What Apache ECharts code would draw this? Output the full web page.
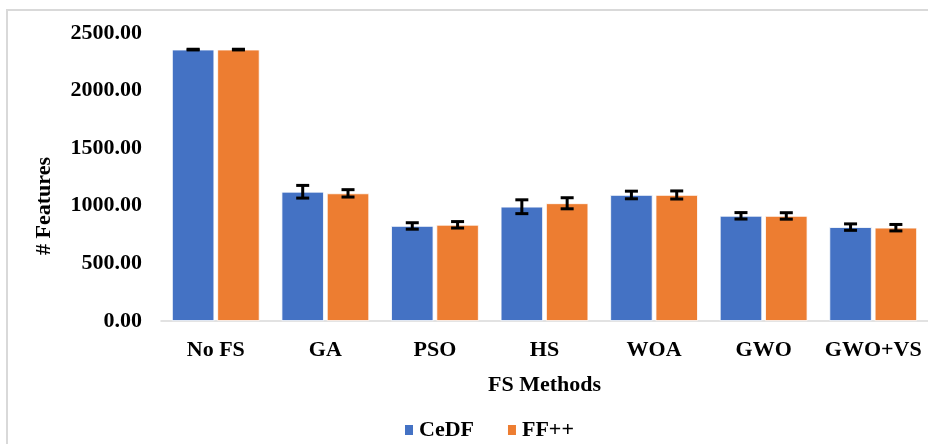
<!DOCTYPE html>
<html>
<head>
<meta charset="utf-8">
<script src="https://cdn.jsdelivr.net/npm/echarts@6/dist/echarts.min.js"></script>
<style>
  html, body { margin: 0; padding: 0; background: #fff; }
  #chart { width: 928px; height: 444px; }
</style>
</head>
<body>
<div id="chart"></div>
<script>
// Feature counts per feature-selection method, mean and standard deviation
const categories = ['No FS', 'GA', 'PSO', 'HS', 'WOA', 'GWO', 'GWO+VS'];
const cedfValues = [2356, 1122, 825, 992, 1094, 913, 815];
const cedfErrors = [3, 55, 28, 60, 33, 28, 28];
const ffValues = [2356, 1108, 835, 1022, 1094, 912, 810];
const ffErrors = [3, 32, 28, 48, 35, 28, 28];
const yTicks = { min: 0, max: 2500, interval: 500 };

const FONT = 'Liberation Serif';
const FONT_SIZE = 22;
const CATEGORY_GAP = 0.2;   // barCategoryGap as a fraction
const BAR_GAP = 0.07;       // barGap as a fraction of bar width

function errorSeries(name, values, errors, side) {
  return {
    name: name + ' error',
    type: 'custom',
    z: 5,
    data: values.map((v, i) => [i, v, errors[i]]),
    encode: { x: 0, y: 1 },
    renderItem: function (params, api) {
      const idx = api.value(0);
      const val = api.value(1);
      const err = api.value(2);
      const band = api.size([1, 0])[0];
      const w = band * (1 - CATEGORY_GAP) / (2 + BAR_GAP);
      const x = api.coord([idx, val])[0] + side * w * (1 + BAR_GAP) / 2;
      const yTop = api.coord([idx, val + err])[1];
      const yBot = api.coord([idx, val - err])[1];
      const cap = 6.5;
      const style = { stroke: '#000', lineWidth: 3 };
      return {
        type: 'group',
        children: [
          { type: 'line', shape: { x1: x, y1: yTop, x2: x, y2: yBot }, style: style },
          { type: 'line', shape: { x1: x - cap, y1: yTop, x2: x + cap, y2: yTop }, style: style },
          { type: 'line', shape: { x1: x - cap, y1: yBot, x2: x + cap, y2: yBot }, style: style }
        ]
      };
    }
  };
}

const boldText = { fontFamily: FONT, fontWeight: 'bold', fontSize: FONT_SIZE, color: '#000' };

const chart = echarts.init(document.getElementById('chart'), null, { renderer: 'canvas' });
chart.setOption({
  animation: false,
  backgroundColor: '#fff',
  textStyle: { fontFamily: FONT, color: '#000' },
  graphic: [
    {
      type: 'polyline',
      shape: { points: [[7, 460], [7, 10], [940, 10]] },
      style: { stroke: '#d9d9d9', lineWidth: 2, fill: null },
      silent: true
    },
    {
      type: 'text',
      x: 44, y: 206,
      rotation: Math.PI / 2,
      style: {
        text: '# Features',
        fontFamily: FONT, fontWeight: 'bold', fontSize: FONT_SIZE,
        fill: '#000', align: 'center', verticalAlign: 'middle'
      }
    }
  ],
  grid: { left: 161, top: 33, width: 777, height: 288, containLabel: false },
  legend: {
    data: ['CeDF', 'FF++'],
    left: 403, top: 419, padding: 0,
    icon: 'rect', itemWidth: 10, itemHeight: 12, itemGap: 32,
    textStyle: boldText
  },
  xAxis: {
    type: 'category',
    data: categories,
    name: 'FS Methods',
    nameLocation: 'middle',
    nameGap: 53,
    nameTextStyle: boldText,
    axisLine: { lineStyle: { color: '#d9d9d9', width: 1.5 } },
    axisTick: { show: false },
    axisLabel: Object.assign({ margin: 18, interval: 0 }, boldText)
  },
  yAxis: {
    type: 'value',
    min: yTicks.min, max: yTicks.max, interval: yTicks.interval,
    axisLine: { show: false },
    axisTick: { show: false },
    splitLine: { show: false },
    axisLabel: Object.assign({ margin: 19, formatter: v => v.toFixed(2) }, boldText)
  },
  series: [
    {
      name: 'CeDF', type: 'bar', data: cedfValues,
      barCategoryGap: (CATEGORY_GAP * 100) + '%', barGap: (BAR_GAP * 100) + '%',
      itemStyle: { color: '#4472C4', borderColor: '#ffffff', borderWidth: 0.8 }
    },
    {
      name: 'FF++', type: 'bar', data: ffValues,
      barCategoryGap: (CATEGORY_GAP * 100) + '%', barGap: (BAR_GAP * 100) + '%',
      itemStyle: { color: '#ED7D31', borderColor: '#ffffff', borderWidth: 0.8 }
    },
    errorSeries('CeDF', cedfValues, cedfErrors, -1),
    errorSeries('FF++', ffValues, ffErrors, 1)
  ]
});
</script>
</body>
</html>
